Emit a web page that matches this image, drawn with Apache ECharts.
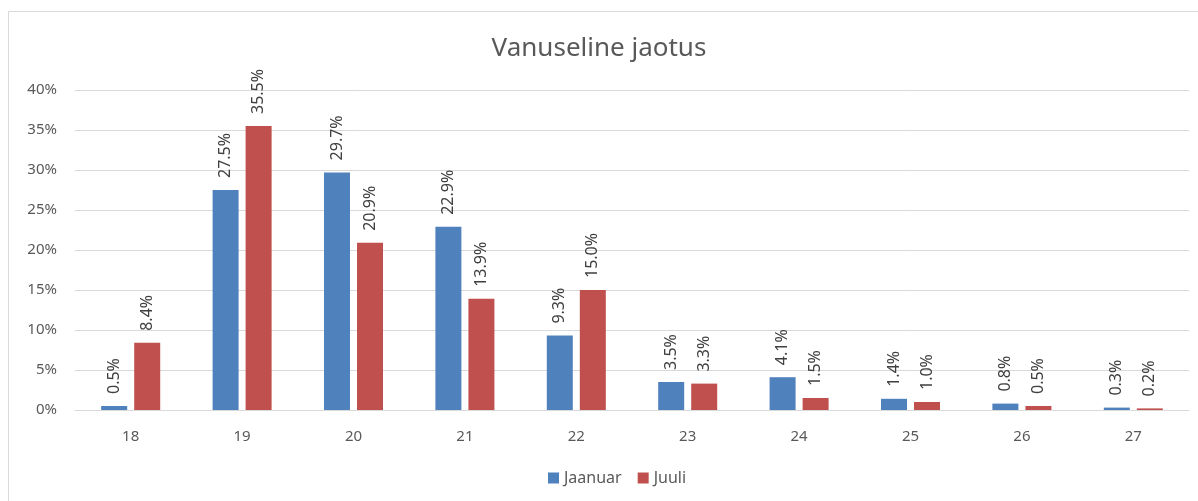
<!DOCTYPE html>
<html><head><meta charset="utf-8">
<script src="https://cdn.jsdelivr.net/npm/echarts@6/dist/echarts.min.js"></script>
<style>html,body{margin:0;padding:0;background:#fff}#c{width:1198px;height:501px}</style>
</head><body><div id="c"></div>
<script>
const categories = ['18','19','20','21','22','23','24','25','26','27'];
const jaanuar = [0.5, 27.5, 29.7, 22.9, 9.3, 3.5, 4.1, 1.4, 0.8, 0.3];
const juuli = [8.4, 35.5, 20.9, 13.9, 15.0, 3.3, 1.5, 1.0, 0.5, 0.2];
const FONT = '"Noto Sans", sans-serif';
const chart = echarts.init(document.getElementById('c'));
const lbl = {
  show: true, position: 'top', rotate: 90, align: 'left', verticalAlign: 'middle',
  distance: 12, color: '#404040', fontSize: 16, fontFamily: FONT,
  formatter: p => p.value.toFixed(1) + '%'
};
chart.setOption({
  animation: false,
  graphic: [{type: 'rect', shape: {x: 8.5, y: 11.5, width: 1300, height: 600},
    style: {fill: 'none', stroke: '#d9d9d9', lineWidth: 1}, silent: true}],
  title: {text: 'Vanuseline jaotus', left: 'center', top: 31,
    textStyle: {fontFamily: FONT, fontSize: 26, fontWeight: 'normal', color: '#595959'}},
  legend: {bottom: 10, left: 543, itemWidth: 11, itemHeight: 11, itemGap: 16,
    icon: 'rect', textStyle: {fontFamily: FONT, fontSize: 16, color: '#595959'}},
  grid: {left: 75, right: 9, top: 90, bottom: 91},
  xAxis: {type: 'category', data: categories,
    axisLine: {lineStyle: {color: '#d9d9d9'}}, axisTick: {show: false},
    axisLabel: {color: '#595959', fontSize: 15, fontFamily: FONT, margin: 19}},
  yAxis: {type: 'value', min: 0, max: 40, interval: 5,
    axisLabel: {formatter: '{value}%', color: '#595959', fontSize: 15, fontFamily: FONT, margin: 18},
    splitLine: {lineStyle: {color: '#d9d9d9'}}, axisLine: {show: false}, axisTick: {show: false}},
  series: [
    {name: 'Jaanuar', type: 'bar', data: jaanuar, barWidth: 26, barGap: '27%',
      itemStyle: {color: '#4f81bd'}, label: lbl},
    {name: 'Juuli', type: 'bar', data: juuli, barWidth: 26,
      itemStyle: {color: '#c0504d'}, label: lbl}
  ]
});
</script></body></html>
